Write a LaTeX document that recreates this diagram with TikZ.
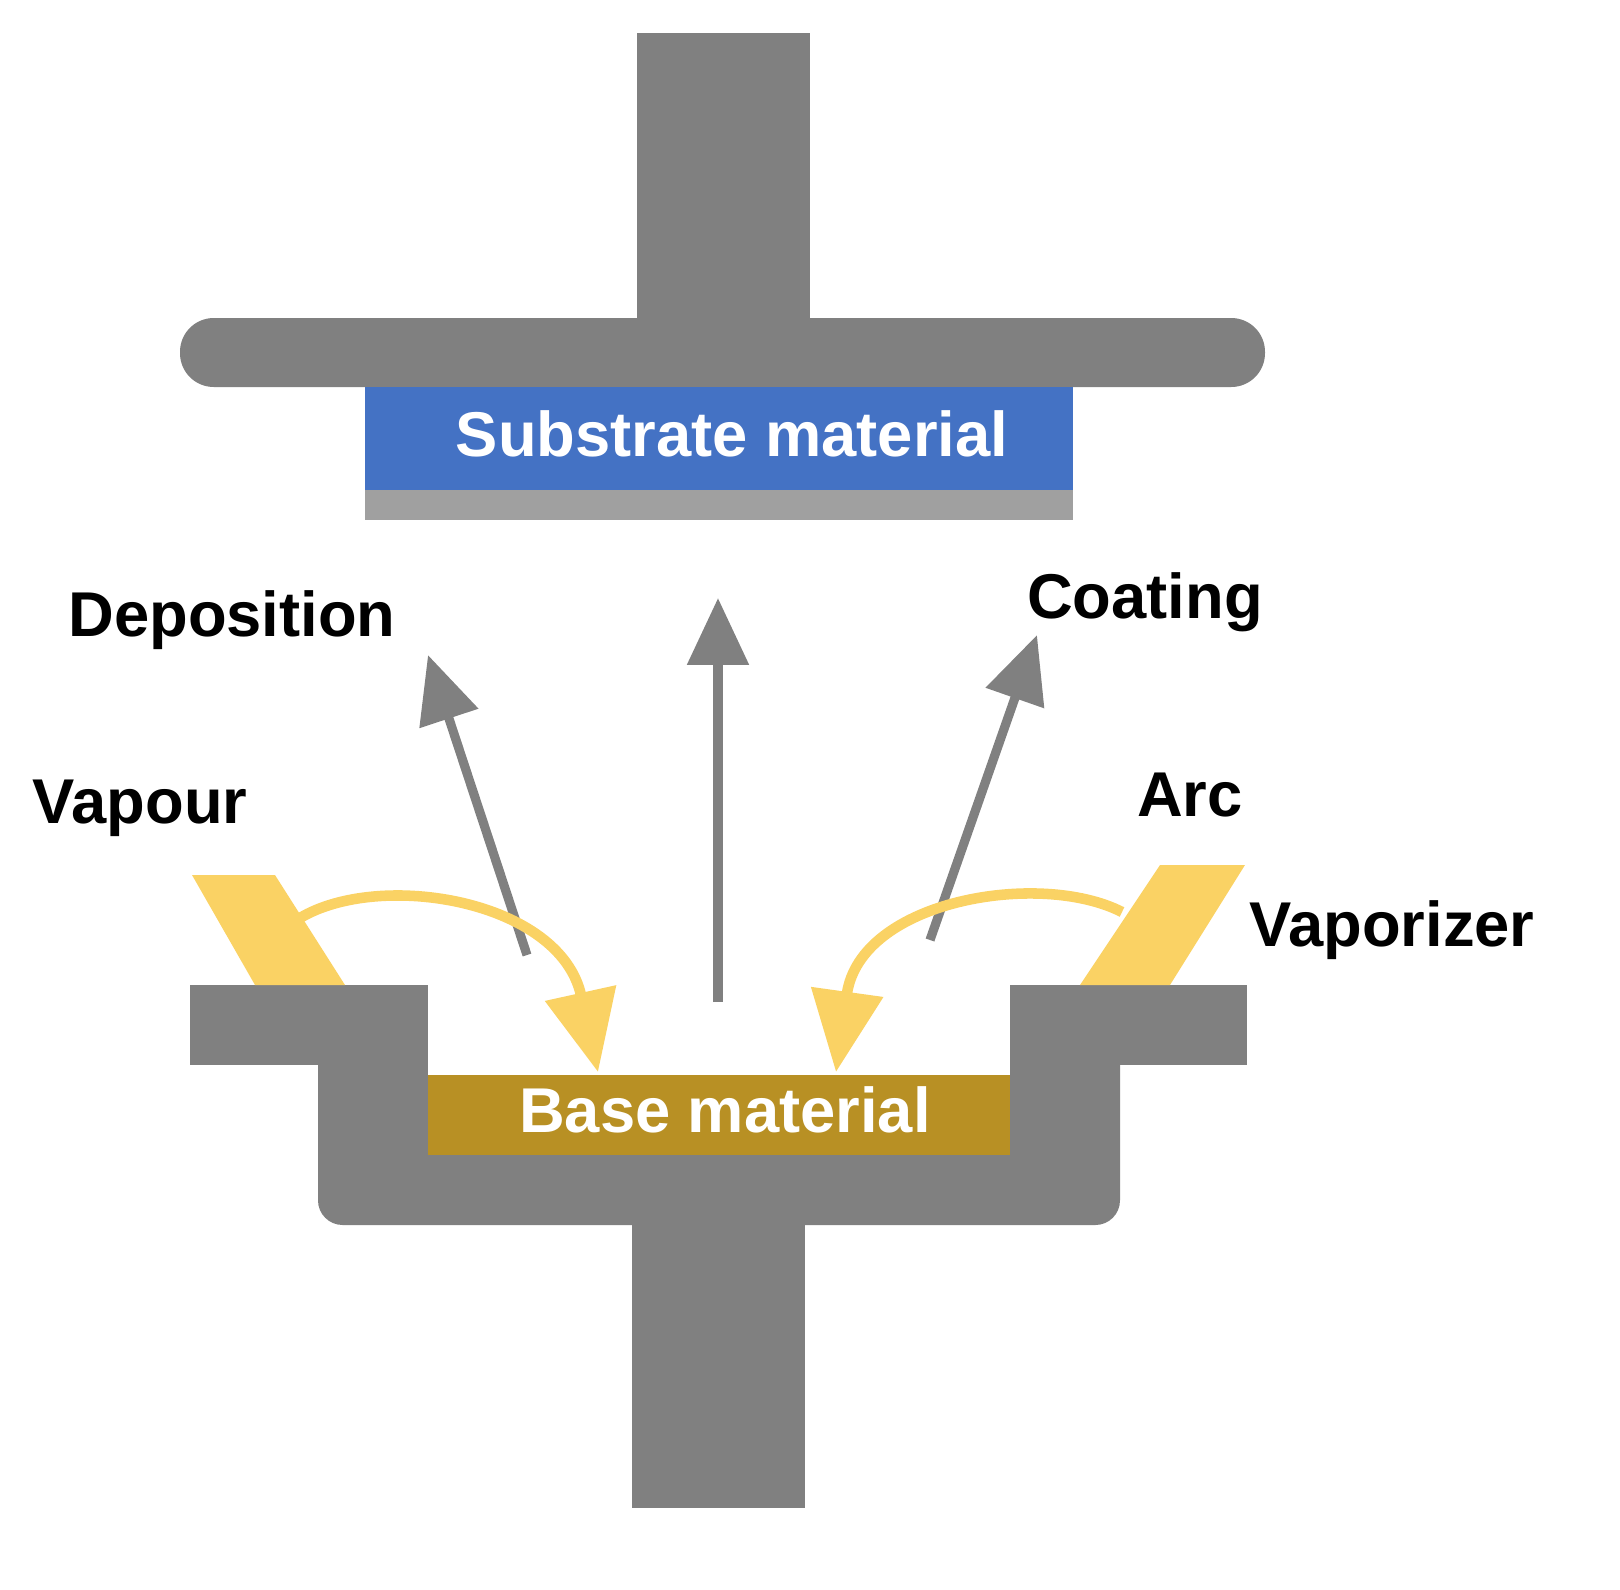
\documentclass[tikz,border=0pt]{standalone}
\usepackage{fontspec}
\setmainfont{Liberation Sans}
\usetikzlibrary{arrows.meta}
\definecolor{holder}{RGB}{128,128,128}
\definecolor{strip}{RGB}{160,160,160}
\definecolor{subblue}{RGB}{68,114,196}
\definecolor{basegold}{RGB}{184,144,36}
\definecolor{vapyellow}{RGB}{250,210,100}
\tikzset{
    label/.style={font=\fontsize{18}{22}\selectfont\bfseries, text=black},
    inlabel/.style={font=\fontsize{18}{22}\selectfont\bfseries, text=white},
    flow/.style={draw=holder, line width=2.6pt, -{Triangle[length=19pt,width=17pt]}},
    vapour/.style={draw=vapyellow, line width=3pt, -{Triangle[length=23pt,width=20pt]}},
}
\begin{document}
\begin{tikzpicture}[x=0.01cm, y=-0.01cm]
\useasboundingbox (0,0) rectangle (1620,1590);

% upper holder
\fill[holder] (637,33) rectangle (810,330);
\fill[holder, rounded corners=9.6pt] (180,318) rectangle (1265,387);
\fill[subblue] (365,387) rectangle (1073,490);
\fill[strip] (365,490) rectangle (1073,520);
\node[inlabel] (sub) at (732,434) {Substrate material};

% lower holder
\fill[holder] (632,1200) rectangle (805,1508);
\fill[holder, rounded corners=7pt] (318,1040) rectangle (1120,1225);
\fill[holder] (190,985) rectangle (428,1065);
\fill[holder] (1010,985) rectangle (1247,1065);
\fill[holder] (318,1040) rectangle (1120,1075);
\fill[white] (428,985) rectangle (1010,1075);
\fill[basegold] (428,1075) rectangle (1010,1155);
\node[inlabel] (base) at (725,1110) {Base material};

% vaporizers
\fill[vapyellow] (192,875) -- (275,875) -- (345,985) -- (255,985) -- cycle;
\fill[vapyellow] (1160,865) -- (1245,865) -- (1170,985) -- (1080,985) -- cycle;

% labels
\node[label] (dep) at (232,620) {Deposition};
\node[label] (coat) at (1145,602) {Coating};
\node[label] (vap) at (140,808) {Vapour};
\node[label] (arc) at (1190,795) {Arc};
\node[label] (vzr) at (1392,930) {Vaporizer};

% deposition arrows
\coordinate (m0) at (718,1002);
\coordinate (m1) at (718,598);
\coordinate (l0) at (527,955);
\coordinate (l1) at (428,655);
\coordinate (r0) at (930,940);
\coordinate (r1) at (1037,635);
\draw[flow] (m0) -- (m1);
\draw[flow] (l0) -- (l1);
\draw[flow] (r0) -- (r1);

% vapour arrows
\coordinate (vl0) at (300,918);
\coordinate (vl1) at (598,1072);
\coordinate (vr0) at (1122,912);
\coordinate (vr1) at (836,1072);
\draw[vapour] (vl0) .. controls (380,870) and (560,900) .. (vl1);
\draw[vapour] (vr0) .. controls (1040,870) and (860,900) .. (vr1);
\end{tikzpicture}
\end{document}
